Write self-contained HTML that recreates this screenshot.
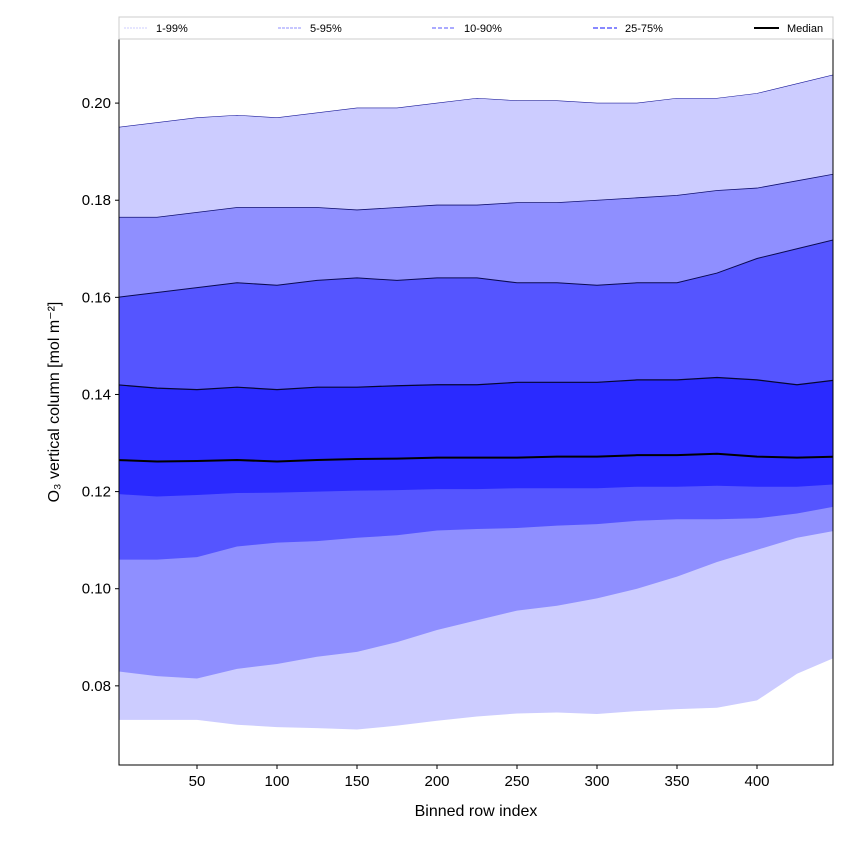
<!DOCTYPE html>
<html><head><meta charset="utf-8"><style>
body{margin:0;background:#fff;font-family:"Liberation Sans","DejaVu Sans",sans-serif}
</style></head><body>
<svg id="chart" width="850" height="850" xmlns="http://www.w3.org/2000/svg"></svg>
<script>
const xs=[1,25,50,75,100,125,150,175,200,225,250,275,300,325,350,375,400,425,448];
const p99=[0.195,0.196,0.197,0.1975,0.197,0.198,0.199,0.199,0.2,0.201,0.2005,0.2005,0.2,0.2,0.201,0.201,0.202,0.204,0.206];
const p95=[0.1765,0.1765,0.1775,0.1785,0.1785,0.1785,0.178,0.1785,0.179,0.179,0.1795,0.1795,0.18,0.1805,0.181,0.182,0.1825,0.184,0.1855];
const p90=[0.160,0.161,0.162,0.163,0.1625,0.1635,0.164,0.1635,0.164,0.164,0.163,0.163,0.1625,0.163,0.163,0.165,0.168,0.170,0.172];
const p75=[0.142,0.1413,0.141,0.1415,0.141,0.1415,0.1415,0.1418,0.142,0.142,0.1425,0.1425,0.1425,0.143,0.143,0.1435,0.143,0.142,0.143];
const p50=[0.1265,0.1262,0.1263,0.1265,0.1262,0.1265,0.1267,0.1268,0.127,0.127,0.127,0.1272,0.1272,0.1275,0.1275,0.1278,0.1272,0.127,0.1272];
const p25=[0.1195,0.119,0.1193,0.1197,0.1198,0.12,0.1202,0.1203,0.1205,0.1205,0.1207,0.1207,0.1207,0.121,0.121,0.1212,0.121,0.121,0.1215];
const p10=[0.106,0.106,0.1065,0.1087,0.1095,0.1098,0.1105,0.111,0.112,0.1123,0.1125,0.113,0.1133,0.114,0.1143,0.1143,0.1145,0.1155,0.117];
const p5=[0.083,0.082,0.0815,0.0835,0.0845,0.086,0.087,0.089,0.0915,0.0935,0.0955,0.0965,0.098,0.1,0.1025,0.1055,0.108,0.1105,0.112];
const p1=[0.073,0.073,0.073,0.072,0.0715,0.0713,0.071,0.0718,0.0728,0.0737,0.0743,0.0745,0.0742,0.0748,0.0752,0.0755,0.077,0.0825,0.086];
const xTicks=[50,100,150,200,250,300,350,400];
const yTicks=[0.08,0.10,0.12,0.14,0.16,0.18,0.20];

const L=119,R=833,T=39,B=765,X0=1.25,X1=447.5,Y0=0.0637,Y1=0.2132;
const sx=v=>L+(v-X0)/(X1-X0)*(R-L);
const sy=v=>B-(v-Y0)/(Y1-Y0)*(B-T);
const svg=document.getElementById('chart');
const NS='http://www.w3.org/2000/svg';
function mk(tag,attrs,parent){const e=document.createElementNS(NS,tag);for(const k in attrs)e.setAttribute(k,attrs[k]);(parent||svg).appendChild(e);return e;}
const clip=mk('clipPath',{id:'pc'},mk('defs',{}));mk('rect',{x:L,y:T,width:R-L,height:B-T},clip);
const g=mk('g',{'clip-path':'url(#pc)'});
const xsEx=xs.map((x,i)=>i==0?0:i==xs.length-1?450:x);
function band(lo,hi,color,name){
  let d='M'+xsEx.map((x,i)=>sx(x)+','+sy(hi[i])).join('L');
  for(let i=xs.length-1;i>=0;i--)d+='L'+sx(xsEx[i])+','+sy(lo[i]);
  const p=mk('path',{d:d+'Z',fill:color},g);
  
  
}
function line(v,color,w,name){
  const p=mk('path',{d:'M'+xsEx.map((x,i)=>sx(x)+','+sy(v[i])).join('L'),fill:'none',stroke:color,'stroke-width':w},g);
  
  
}
band(p1,p99,'#ccccff','band-1-99');
band(p5,p95,'#8f8fff','band-5-95');
band(p10,p90,'#5555ff','band-10-90');
band(p25,p75,'#2a2aff','band-25-75');
line(p99,'#1a1a99',0.6,'line-p99');
line(p95,'#101070',0.8,'line-p95');
line(p90,'#0a0a50',1,'line-p90');
line(p75,'#050530',1.2,'line-p75');
line(p50,'#000',2,'median-line');
mk('rect',{x:L,y:T,width:R-L,height:B-T,fill:'none',stroke:'#000','stroke-width':1});
xTicks.forEach(t=>{const x=sx(t);mk('line',{x1:x,x2:x,y1:B,y2:B+4,stroke:'#000'});
  const tx=mk('text',{x:x,y:B+21,'text-anchor':'middle','font-size':15});tx.textContent=t;
  });
yTicks.forEach(t=>{const y=sy(t);mk('line',{x1:L-4,x2:L,y1:y,y2:y,stroke:'#000'});
  const tx=mk('text',{x:L-8,y:y+5,'text-anchor':'end','font-size':15});tx.textContent=t.toFixed(2);
  });
</script>
<svg width="850" height="850" style="position:absolute;left:0;top:0" xmlns="http://www.w3.org/2000/svg">
<text x="476" y="816" text-anchor="middle" font-size="16">Binned row index</text>
<text transform="translate(59,402) rotate(-90)" text-anchor="middle" font-size="16">O₃ vertical column [mol m⁻²]</text>
<g>
<rect x="119" y="17" width="714" height="22" fill="#fff" stroke="#ccc"/>
<line x1="124" x2="148" y1="28" y2="28" stroke="#ccccff" stroke-dasharray="2,1"/>
<text x="156" y="32" font-size="11">1-99%</text>
<line x1="278" x2="302" y1="28" y2="28" stroke="#8f8fff" stroke-dasharray="3,1"/>
<text x="310" y="32" font-size="11">5-95%</text>
<line x1="432" x2="456" y1="28" y2="28" stroke="#7777ff" stroke-width="1.2" stroke-dasharray="4,2"/>
<text x="464" y="32" font-size="11">10-90%</text>
<line x1="593" x2="617" y1="28" y2="28" stroke="#6060ff" stroke-width="1.6" stroke-dasharray="5,2"/>
<text x="625" y="32" font-size="11">25-75%</text>
<line x1="754" x2="779" y1="28" y2="28" stroke="#000" stroke-width="2"/>
<text x="787" y="32" font-size="11">Median</text>
</g>
</svg>
</body></html>
